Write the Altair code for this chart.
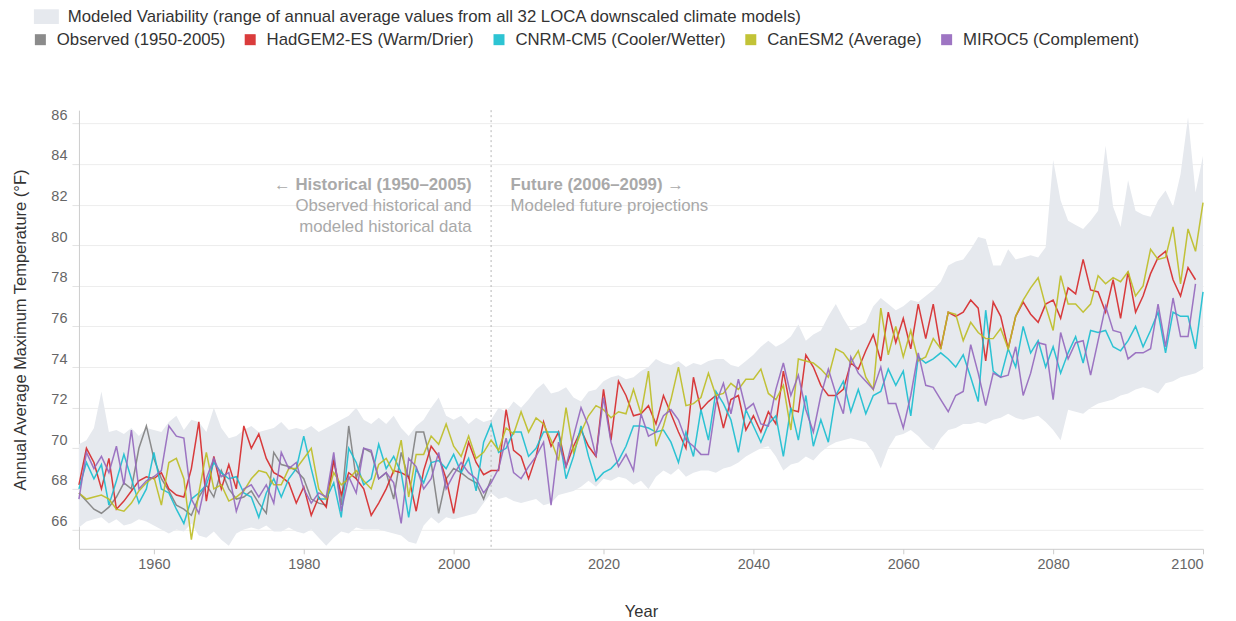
import altair as alt
import pandas as pd

# ---------------- data ----------------
START = 1950

observed = [
    67.8, 67.4, 67.0, 66.8, 67.1, 67.6, 68.3, 68.0, 70.0, 71.1,
    69.5, 68.5, 67.9, 67.2, 67.0, 66.7, 67.6, 68.2, 67.6, 68.9,
    68.0, 67.5, 67.6, 67.9, 67.3, 66.8, 69.8, 69.2, 69.1, 68.9,
    68.5, 67.5, 67.3, 67.2, 69.5, 67.2, 71.1, 68.5, 70.0, 69.8,
    68.5, 68.8, 67.5, 69.8, 68.5, 70.8, 70.8, 69.3, 66.8, 68.5,
    69.0, 68.8, 68.5, 68.3, 67.5, 68.5,
]

hadgem2 = [
    68.2, 70.0, 69.3, 68.0, 69.5, 67.0, 67.4, 67.9, 68.4, 68.6,
    68.5, 68.8, 68.0, 67.7, 67.6, 69.0, 71.3, 67.4, 69.6, 68.0,
    69.2, 68.0, 71.1, 70.0, 70.7, 69.5, 68.8, 68.6, 68.3, 67.3,
    68.1, 66.7, 67.6, 67.1, 69.4, 67.7, 68.8, 68.5, 68.0, 66.7,
    67.3, 68.0, 68.9, 68.8, 68.6, 66.9, 68.9, 70.1, 69.6, 68.5,
    66.8, 68.9, 70.3, 69.3, 68.7, 68.9, 68.9, 71.9, 69.9, 69.6,
    68.5, 69.6, 71.3, 70.1, 70.8, 69.1, 70.1, 70.9, 70.1, 69.6,
    72.9, 70.4, 73.3, 72.6, 71.6, 71.7, 72.1, 71.2, 72.6, 71.7,
    70.8, 70.0, 73.5, 71.9, 72.3, 72.6, 71.0, 72.4, 72.6, 70.9,
    71.6, 70.8, 71.8, 71.2, 73.8, 71.9, 71.8, 74.6, 74.0, 73.1,
    72.6, 72.6, 72.9, 74.2, 73.9, 74.8, 75.6, 74.3, 76.7, 75.2,
    76.4, 74.9, 77.1, 75.4, 77.1, 74.9, 76.7, 76.5, 76.7, 77.3,
    76.9, 74.3, 77.2, 76.5, 74.9, 76.5, 77.2, 76.6, 76.2, 77.1,
    77.3, 76.4, 77.9, 77.6, 79.3, 77.8, 77.7, 76.7, 78.3, 76.4,
    78.7, 76.7, 77.5, 78.6, 79.4, 79.7, 78.3, 77.5, 78.9, 78.3,
]

cnrm = [
    68.0, 69.3, 68.5, 69.2, 67.2, 68.4, 69.7, 68.5, 67.3, 68.0,
    69.8, 68.0, 67.8, 67.0, 66.3, 67.5, 67.8, 68.2, 69.3, 68.8,
    68.5, 68.6, 67.8, 67.6, 66.6, 67.8, 68.5, 67.6, 68.5, 69.0,
    70.6, 69.0, 67.5, 67.5, 68.3, 66.6, 70.0, 69.3, 68.2, 68.5,
    70.2, 69.0, 69.6, 68.8, 66.6, 69.0, 68.3, 69.3, 69.4, 69.0,
    69.7, 68.8, 69.5, 67.9, 70.3, 71.2, 69.8, 70.0, 70.8, 70.8,
    69.6, 70.0, 70.8, 70.8, 70.8, 68.5, 69.6, 71.1, 69.6, 68.4,
    68.8, 69.0, 69.4, 70.1, 71.1, 71.1, 71.0, 70.8, 70.9, 70.3,
    69.3, 70.8, 69.6, 71.9, 70.4, 72.8, 72.2, 71.4, 69.8, 71.9,
    71.1, 70.3, 71.2, 71.6, 69.6, 72.0, 70.4, 72.6, 70.1, 71.4,
    70.3, 72.6, 73.3, 71.8, 72.9, 71.7, 72.6, 72.8, 73.9, 73.1,
    73.8, 71.6, 74.5, 74.2, 74.4, 74.7, 74.4, 74.0, 74.6, 73.5,
    72.3, 76.8, 73.8, 73.5, 74.9, 74.0, 76.0, 74.7, 75.3, 74.0,
    75.0, 73.7, 74.7, 75.5, 74.2, 75.8, 75.7, 75.8, 75.0, 74.8,
    75.3, 76.0, 75.0, 75.8, 76.7, 74.7, 76.7, 76.5, 76.5, 74.9,
    77.7,
]

canesm2 = [
    67.8, 67.5, 67.6, 67.7, 67.5, 67.0, 66.9, 67.3, 67.9, 68.3,
    68.6, 67.2, 69.3, 69.5, 68.5, 65.5, 67.8, 69.8, 68.0, 68.2,
    67.4, 67.6, 67.9, 68.5, 68.9, 68.8, 68.2, 68.2, 69.0, 69.0,
    69.5, 70.0, 68.0, 67.5, 68.8, 68.2, 68.5, 68.9, 68.4, 68.0,
    69.2, 69.5, 68.8, 70.4, 67.6, 69.7, 69.7, 70.6, 70.2, 71.2,
    70.1, 69.6, 70.6, 69.5, 69.8, 70.4, 69.9, 71.0, 70.7, 71.8,
    70.8, 71.5, 71.2, 70.4, 69.4, 72.0, 69.8, 70.8, 71.6, 72.1,
    71.9, 71.5, 71.8, 71.7, 72.9, 71.7, 73.8, 70.1, 71.1, 72.4,
    74.0, 72.1, 72.2, 72.5, 73.7, 72.6, 72.7, 73.2, 72.9, 73.4,
    73.4, 73.9, 72.7, 72.4, 73.1, 70.9, 74.4, 74.3, 74.2, 73.9,
    73.5, 74.9, 74.7, 74.2, 74.8, 73.5, 72.9, 76.9, 74.6, 76.0,
    74.5, 75.8, 74.3, 74.5, 75.4, 74.9, 76.7, 76.6, 75.3, 76.2,
    75.7, 75.4, 75.4, 75.9, 74.9, 76.5, 77.3, 77.9, 78.4, 77.0,
    75.8, 78.5, 77.1, 77.1, 76.7, 77.1, 78.5, 78.1, 78.4, 78.2,
    78.7, 77.5, 78.0, 79.8, 79.3, 79.4, 80.9, 78.1, 80.8, 79.7,
    82.1,
]

miroc5 = [
    67.5, 69.8, 69.0, 69.6, 68.8, 70.1, 68.2, 70.9, 68.0, 68.4,
    68.6, 68.9, 71.1, 70.6, 70.5, 67.5, 66.8, 68.5, 69.5, 68.6,
    68.8, 66.9, 68.0, 68.2, 67.6, 68.2, 67.3, 69.8, 69.0, 69.3,
    68.0, 67.3, 67.8, 67.6, 69.8, 66.9, 68.6, 67.8, 70.0, 69.9,
    68.5, 68.8, 68.3, 66.3, 69.5, 69.1, 68.0, 68.5, 69.8, 68.0,
    68.7, 69.3, 68.8, 68.5, 67.8, 68.3, 69.0, 70.5, 68.8, 68.5,
    69.1, 69.6, 70.3, 67.2, 70.3, 69.1, 70.6, 72.0, 71.1, 69.6,
    72.5, 70.3, 69.1, 69.7, 68.9, 71.7, 70.6, 70.8, 71.6, 71.9,
    71.4, 70.4, 70.1, 69.7, 69.7, 72.2, 73.2, 71.7, 73.4, 71.9,
    72.2, 71.2, 71.1, 72.9, 74.2, 72.6, 73.6, 71.9, 70.8, 72.6,
    73.9, 72.7, 71.7, 74.5, 73.7, 73.3, 72.9, 74.0, 72.2, 72.2,
    71.0, 72.6, 74.7, 73.1, 73.0, 72.4, 71.8, 72.6, 72.8, 75.1,
    73.7, 72.1, 73.7, 73.5, 73.6, 75.0, 72.6, 73.7, 75.2, 75.1,
    72.4, 75.7, 74.4, 75.2, 75.3, 73.6, 75.3, 77.0, 75.8, 75.7,
    74.4, 74.7, 74.7, 74.9, 77.1, 75.0, 77.4, 75.5, 75.5, 78.1,
]

band_high = [
    70.2, 70.4, 71.0, 72.8, 70.8, 70.9, 70.7, 71.0, 70.6, 71.0,
    70.9, 70.8, 71.3, 71.6, 70.9, 71.4, 71.3, 70.8, 72.0, 71.0,
    70.5, 70.6, 70.9, 71.1, 70.8, 70.9, 71.0, 71.3, 70.9, 71.0,
    70.9, 71.1, 70.8, 71.0, 71.2, 71.4, 71.6, 72.0, 71.4, 71.2,
    71.5, 71.2, 71.6, 71.0, 70.6, 71.1, 71.4, 72.0, 72.5, 71.6,
    71.4, 71.6, 71.2, 71.5, 71.3, 71.4, 72.0, 71.8, 72.3, 72.0,
    72.4, 72.9, 73.2, 72.7, 72.8, 73.0, 72.5, 72.3, 72.8, 72.9,
    73.3, 73.5, 73.6, 73.4, 73.5, 73.8, 74.0, 74.4, 74.2, 74.1,
    74.3, 74.0, 74.2, 74.1, 74.3, 74.4, 74.4, 74.1, 74.0, 74.3,
    74.6, 75.0, 75.3, 75.0, 75.2, 75.5, 76.1, 75.3, 75.6, 75.8,
    76.5, 77.1, 76.4, 75.8, 76.0, 76.2, 77.0, 77.4, 77.1, 76.8,
    77.0, 77.3, 77.2, 77.5, 77.8, 78.2, 79.0, 79.2, 79.3, 79.8,
    80.4, 80.3, 79.0, 79.0, 79.8, 79.3, 79.4, 79.5, 79.4, 79.9,
    84.2, 82.2, 81.2, 81.0, 80.8, 81.2, 81.7, 84.9, 81.9, 80.9,
    83.2, 81.7, 81.5, 81.4, 82.2, 82.7, 81.9, 83.5, 86.3, 82.6,
    84.4,
]

band_low = [
    66.1, 66.4, 66.5, 66.6, 66.3, 66.5, 66.2, 66.3, 66.5, 66.4,
    66.2, 66.0, 65.8, 66.0, 65.9, 66.3, 65.7, 65.6, 65.9, 65.5,
    65.2, 65.8, 66.0, 66.1, 66.0, 66.2, 65.9, 65.9, 66.1, 65.9,
    65.8, 66.0, 65.6, 65.2, 65.6, 65.9, 65.8, 66.1, 66.0, 66.0,
    66.0, 65.9, 65.8, 65.7, 65.4, 65.3, 66.2, 66.6, 66.3, 66.6,
    66.5, 66.6, 66.7, 66.8, 67.3, 67.8, 67.5, 67.6, 67.4, 67.3,
    67.4, 67.5, 67.2, 67.3, 67.7, 67.8, 67.9, 68.1, 68.4, 68.1,
    68.5, 68.4, 68.6, 68.5, 68.2, 68.4, 68.0, 68.6, 68.9, 68.7,
    69.0, 68.6, 68.8, 68.9, 68.9, 68.8, 69.0, 69.1, 69.3, 69.6,
    69.8, 70.0, 70.1, 69.6, 68.9, 69.2, 69.3, 69.6, 69.4, 69.8,
    70.1, 70.3, 70.4, 70.5, 70.4, 70.3, 69.8, 69.0, 70.0, 70.6,
    70.7, 70.9, 70.6, 70.2, 69.9, 70.5, 70.9, 71.0, 71.2, 71.2,
    71.3, 71.2, 71.4, 71.5, 71.7, 71.5, 71.4, 71.5, 71.6, 71.3,
    70.9, 70.4, 71.9, 71.8, 71.7, 72.0, 72.2, 72.3, 72.4, 72.6,
    72.7, 72.9, 73.0, 72.9, 72.7, 73.2, 73.3, 73.5, 73.6, 73.7,
    73.9,
]

series_names = [
    "Observed (1950-2005)",
    "HadGEM2-ES (Warm/Drier)",
    "CNRM-CM5 (Cooler/Wetter)",
    "CanESM2 (Average)",
    "MIROC5 (Complement)",
]
series_colors = ["#7f7f7f", "#d62728", "#17becf", "#bcbd22", "#9467bd"]
series_values = [observed, hadgem2, cnrm, canesm2, miroc5]

band_label = "Modeled Variability (range of annual average values from all 32 LOCA downscaled climate models)"
band_color = "#e6e9ee"

x_ticks = [1960, 1980, 2000, 2020, 2040, 2060, 2080, 2100]
y_ticks = [66, 68, 70, 72, 74, 76, 78, 80, 82, 84, 86]

divider_year = 2005
hist_lines = ["← Historical (1950–2005)", "Observed historical and", "modeled historical data"]
future_lines = ["Future (2006–2099) →", "Modeled future projections"]
hist_anchor_year = 2002.4
future_anchor_year = 2007.6
annot_temps = [82.97, 81.93, 80.90]

# ---------------- tables ----------------
rows = []
for name, vals in zip(series_names, series_values):
    for i, v in enumerate(vals):
        rows.append({"year": START + i, "temp": v, "series": name})
lines_df = pd.DataFrame(rows)

band_df = pd.DataFrame({
    "year": [START + i for i in range(len(band_low))],
    "low": band_low,
    "high": band_high,
    "label": band_label,
})

hist_df = pd.DataFrame({"year": hist_anchor_year, "temp": annot_temps[:3], "text": hist_lines,
                        "bold": [True, False, False]})
fut_df = pd.DataFrame({"year": future_anchor_year, "temp": annot_temps[:2], "text": future_lines,
                       "bold": [True, False]})

FONT = "Liberation Sans"
TXT = 16.8
xscale = alt.Scale(domain=[1950, 2100], nice=False, zero=False)
yscale = alt.Scale(domain=[65.05, 86.65], nice=False, zero=False)

x_axis = alt.Axis(values=x_ticks, format="d", title="Year", grid=False,
                  labelFontSize=14.5, labelColor="#666", labelPadding=4,
                  tickSize=5, tickColor="#ccc", domainColor="#ccc",
                  titleFontSize=16.5, titleFontWeight="normal", titleColor="#333",
                  titlePadding=32)
y_axis = alt.Axis(values=y_ticks, title="Annual Average Maximum Temperature (°F)",
                  grid=True, gridColor="#ededed", domainColor="#ccc",
                  tickSize=7, tickColor="#e3e3e3", labelPadding=5,
                  labelFontSize=14.5, labelColor="#666", labelOffset=-8,
                  titleFontSize=16.5, titleFontWeight="normal", titleColor="#333",
                  titlePadding=22)

band = alt.Chart(band_df).mark_area(opacity=1, strokeWidth=0).encode(
    x=alt.X("year:Q", scale=xscale, axis=x_axis),
    y=alt.Y("low:Q", scale=yscale, axis=y_axis),
    y2="high:Q",
    fill=alt.Fill("label:N", scale=alt.Scale(domain=[band_label], range=[band_color]),
                  legend=alt.Legend(title=None, orient="none", legendX=-41, legendY=-102,
                                    symbolType="M-1.7,-1L1.7,-1L1.7,1L-1.7,1Z", symbolSize=216,
                                    symbolStrokeWidth=0, labelFontSize=TXT, labelColor="#333",
                                    labelLimit=2000, labelOffset=13, padding=0)),
)

divider = alt.Chart(pd.DataFrame({"year": [divider_year]})).mark_rule(
    color="#b5b5b5", strokeDash=[2, 3], strokeWidth=1
).encode(x=alt.X("year:Q", scale=xscale))

lines = alt.Chart(lines_df).mark_line(strokeWidth=1.5, opacity=0.9).encode(
    x=alt.X("year:Q", scale=xscale),
    y=alt.Y("temp:Q", scale=yscale),
    color=alt.Color("series:N", scale=alt.Scale(domain=series_names, range=series_colors),
                    sort=series_names,
                    legend=alt.Legend(title=None, orient="none", legendX=-47, legendY=-79,
                                      direction="horizontal", columns=5,
                                      symbolType="square", symbolSize=25, symbolStrokeWidth=6,
                                      labelFontSize=TXT, labelColor="#333", labelLimit=2000,
                                      labelOffset=8, columnPadding=9, padding=0)),
    order=alt.Order("year:Q"),
)

def annot(df, align):
    base = alt.Chart(df)
    bold = base.transform_filter("datum.bold").mark_text(
        align=align, baseline="middle", fontSize=TXT, fontWeight="bold", color="#a9a9a9", font=FONT
    ).encode(x=alt.X("year:Q", scale=xscale), y=alt.Y("temp:Q", scale=yscale), text="text:N")
    norm = base.transform_filter("!datum.bold").mark_text(
        align=align, baseline="middle", fontSize=TXT, color="#a9a9a9", font=FONT
    ).encode(x=alt.X("year:Q", scale=xscale), y=alt.Y("temp:Q", scale=yscale), text="text:N")
    return bold + norm

chart = alt.layer(
    band, divider, lines, annot(hist_df, "right"), annot(fut_df, "left")
).properties(
    width=1125, height=439,
    autosize=alt.AutoSizeParams(type="none"),
    padding={"left": 71, "top": 102, "right": 25, "bottom": 70},
).configure(
    font=FONT,
).configure_view(stroke=None).configure_legend(labelFont=FONT)

chart.save("out.html", embed_options={"renderer": "svg", "actions": False})
